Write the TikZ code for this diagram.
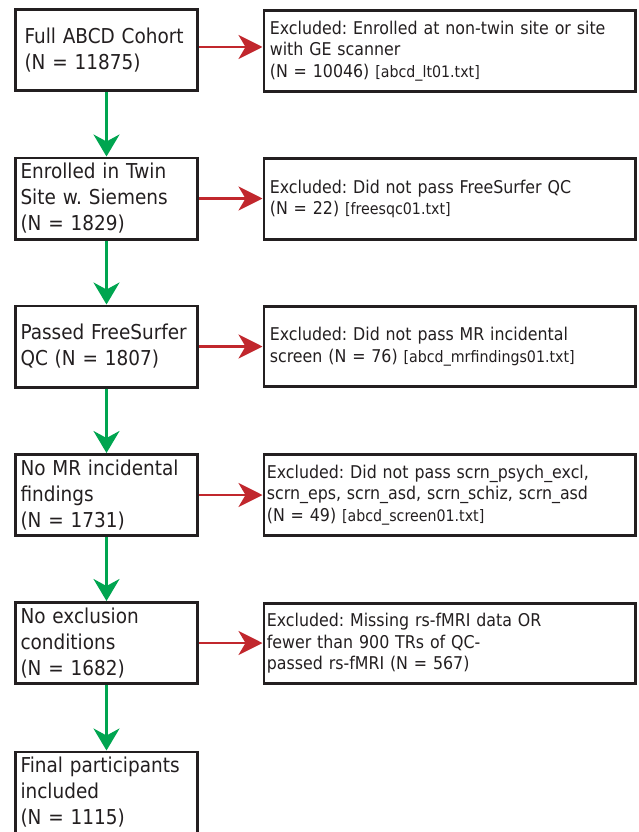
\documentclass[tikz,border=0pt]{standalone}
\usepackage{fontspec}
\setmainfont{DejaVu Sans}[FakeStretch=0.9]
\usetikzlibrary{arrows.meta, positioning}
\frenchspacing

\definecolor{passgreen}{RGB}{0,165,80}
\definecolor{exclred}{RGB}{193,39,45}
\definecolor{boxline}{RGB}{35,31,32}
\newcommand{\srcfile}[1]{{\fontsize{15.8}{21.5}\selectfont[#1]}}

\begin{document}
\begin{tikzpicture}[x=1pt, y=-1pt,
	stage/.style={draw=boxline, line width=2.7pt, minimum width=182.3pt, minimum height=81.3pt, text width=172pt, inner xsep=5.2pt, align=left, text=boxline, font=\fontsize{20.5}{26}\selectfont},
	excl/.style={draw=boxline, line width=2.7pt, minimum width=371.8pt, minimum height=80.5pt, text width=359.8pt, inner xsep=6pt, align=left, text=boxline, font=\fontsize{17.6}{21.5}\selectfont},
	keep/.style={-{Stealth[length=22pt, width=26pt, inset=7pt]}, passgreen, line width=2.8pt},
	drop/.style={-{Stealth[length=24pt, width=24pt, inset=7pt]}, exclred, line width=2.6pt}]
	\useasboundingbox (0,0) rectangle (639,832);
	\node[stage, text width=164pt, inner xsep=9.2pt] (full) at (106.5,50) {Full ABCD Cohort\\(N = 11875)};
	\node[stage] (twin) at (106.5,198.5) {Enrolled in Twin\\Site w. Siemens\\(N = 1829)};
	\node[stage] (fsqc) at (106.5,346.5) {Passed FreeSurfer\\QC (N = 1807)};
	\node[stage] (mrif) at (106.5,495) {No MR incidental\\findings\\(N = 1731)};
	\node[stage] (noexcl) at (106.5,643) {No exclusion\\conditions\\(N = 1682)};
	\node[stage] (final) at (106.5,792.5) {Final participants\\included\\(N = 1115)};

	\node[excl] (exsite) at (449.75,51) {Excluded: Enrolled at non-twin site or site\\with GE scanner\\(N = 10046) \srcfile{abcd\_lt01.txt}};
	\node[excl] (exfsqc) at (449.75,199) {Excluded: Did not pass FreeSurfer QC\\(N = 22) \srcfile{freesqc01.txt}};
	\node[excl] (exmrif) at (449.75,346.5) {Excluded: Did not pass MR incidental\\screen (N = 76) \srcfile{abcd\_mrfindings01.txt}};
	\node[excl, inner xsep=3pt, text width=365.8pt] (exscrn) at (449.75,495) {Excluded: Did not pass scrn\_psych\_excl,\\scrn\_eps, scrn\_asd, scrn\_schiz, scrn\_asd\\(N = 49) \srcfile{abcd\_screen01.txt}};
	\node[excl, inner xsep=3pt, text width=365.8pt] (exrest) at (449.75,643.5) {Excluded: Missing rs-fMRI data OR\\fewer than 900 TRs of QC-\\passed rs-fMRI (N = 567)};

	\draw[keep] (full) -- (twin);
	\draw[keep] (twin) -- (fsqc);
	\draw[keep] (fsqc) -- (mrif);
	\draw[keep] (mrif) -- (noexcl);
	\draw[keep] (noexcl) -- (final);

	\draw[drop] (full.east) ++(0,-3) coordinate (fullout) -- (fullout -| exsite.west);
	\draw[drop] (twin.east) -- (twin.east -| exfsqc.west);
	\draw[drop] (fsqc.east) -- (fsqc.east -| exmrif.west);
	\draw[drop] (mrif.east) -- (mrif.east -| exscrn.west);
	\draw[drop] (noexcl.east) -- (noexcl.east -| exrest.west);
\end{tikzpicture}
\end{document}
